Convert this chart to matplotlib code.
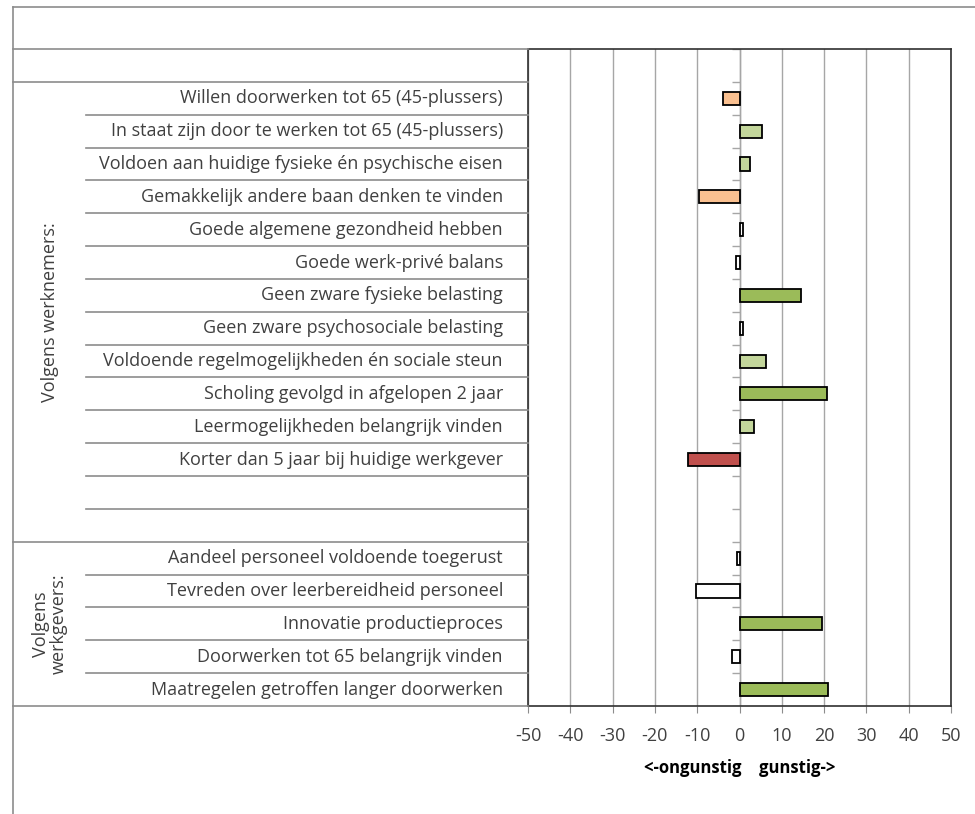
import matplotlib
matplotlib.use("Agg")
import matplotlib.pyplot as plt
from matplotlib.lines import Line2D
from matplotlib.transforms import blended_transform_factory

# Rijen van boven naar beneden; lege strings zijn lege regels in de tabel
labels = [
    "",
    "Willen doorwerken tot 65 (45-plussers)",
    "In staat zijn door te werken tot 65 (45-plussers)",
    "Voldoen aan huidige fysieke én psychische eisen",
    "Gemakkelijk andere baan denken te vinden",
    "Goede algemene gezondheid hebben",
    "Goede werk-privé balans",
    "Geen zware fysieke belasting",
    "Geen zware psychosociale belasting",
    "Voldoende regelmogelijkheden én sociale steun",
    "Scholing gevolgd in afgelopen 2 jaar",
    "Leermogelijkheden belangrijk vinden",
    "Korter dan 5 jaar bij huidige werkgever",
    "",
    "",
    "Aandeel personeel voldoende toegerust",
    "Tevreden over leerbereidheid personeel",
    "Innovatie productieproces",
    "Doorwerken tot 65 belangrijk vinden",
    "Maatregelen getroffen langer doorwerken",
]
waarden = [None, -3.8, 5.4, 2.4, -9.5, 0.85, -0.8, 14.6, 0.85, 6.2, 20.6, 3.5,
           -12.1, None, None, -0.5, -10.2, 19.5, -1.8, 21.0]
kleuren = [None, "#FAC090", "#C3D69B", "#C3D69B", "#FAC090", "white", "white",
           "#9BBB59", "white", "#C3D69B", "#9BBB59", "#C3D69B", "#C0504D",
           None, None, "white", "white", "#9BBB59", "white", "#9BBB59"]
xticks = [-50, -40, -30, -20, -10, 0, 10, 20, 30, 40, 50]
groepen = [("Volgens werknemers:", 1, 14), ("Volgens\nwerkgevers:", 15, 19)]

W, H = 975, 814
fig = plt.figure(figsize=(W / 100, H / 100), dpi=100)
plt.rcParams["font.family"] = ["Open Sans", "DejaVu Sans"]
tekstkleur = "#404040"
lijnkleur = "#8C8C8C"

# plotgebied in pixels
px0, px1, py0, py1 = 528, 951, 49, 706
ax = fig.add_axes([px0 / W, 1 - py1 / H, (px1 - px0) / W, (py1 - py0) / H])

n = len(labels)
for i, (w, c) in enumerate(zip(waarden, kleuren)):
    if w is None:
        continue
    ax.barh(i, w, height=0.4, color=c, edgecolor="black", linewidth=1.3, zorder=3)

ax.set_xlim(-50, 50)
ax.set_ylim(n - 0.5, -0.5)
ax.set_xticks(xticks)
ax.set_xticklabels([str(t) for t in xticks], fontsize=13, color=tekstkleur)
ax.tick_params(axis="x", length=5, color=lijnkleur, pad=10)
ax.set_yticks([])
ax.grid(axis="x", color="#A6A6A6", linewidth=1, zorder=0)
for s in ax.spines.values():
    s.set_color("#303030")
    s.set_linewidth(1.2)

# categorie-as op nul met streepjes op de rijgrenzen
ax.axvline(0, color="#A6A6A6", linewidth=1, zorder=1)
grenzen = [k - 0.5 for k in range(n + 1)]
ax.hlines(grenzen, -1.7, 0, color="#A6A6A6", linewidth=1, zorder=1)

ax.set_xlabel("<-ongunstig    gunstig->", fontsize=12, fontweight="bold",
              color="black", labelpad=10)

# tabel links van het plotgebied
tr = blended_transform_factory(fig.transFigure, ax.transData)
links, inspring, rechts = 13 / W, 86 / W, px0 / W
volle = {0, 1, 15, n}
for k, g in enumerate(grenzen):
    x0 = links if k in volle else inspring
    fig.add_artist(Line2D([x0, rechts], [g, g], transform=tr, color=lijnkleur,
                          linewidth=1.2))
for i, lab in enumerate(labels):
    if lab:
        fig.text(503 / W, i, lab, transform=tr, ha="right", va="center",
                 fontsize=13, color=tekstkleur)
for naam, a, b in groepen:
    fig.text(50 / W, (a + b) / 2, naam, transform=tr, rotation=90,
             ha="center", va="center", fontsize=13, color=tekstkleur,
             multialignment="center", linespacing=1.0)

# rand van het diagramgebied
fig.add_artist(Line2D([13 / W, 1], [1 - 7 / H, 1 - 7 / H], color=lijnkleur, linewidth=1.2))
fig.add_artist(Line2D([13 / W, 13 / W], [0, 1 - 7 / H], color=lijnkleur, linewidth=1.2))

fig.savefig("out.png", dpi=100, facecolor="white")
